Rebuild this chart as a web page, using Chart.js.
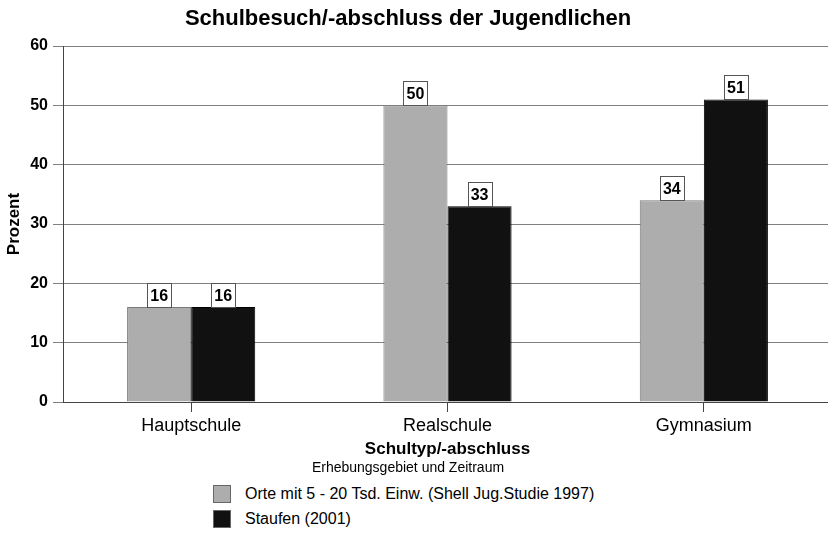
<!DOCTYPE html>
<html>
<head>
<meta charset="utf-8">
<script src="https://cdn.jsdelivr.net/npm/chart.js@4.4.1/dist/chart.umd.min.js"></script>
<style>
	body { margin: 0; background: #fff; overflow: hidden; }
	#wrap { position: relative; width: 828px; height: 559px; overflow: hidden; font-family: "Liberation Sans", Arial, sans-serif; color: #000; }
	#chart { position: absolute; left: 0; top: 0; }
	#title { position: absolute; left: 0; width: 816px; top: 5px; line-height: 26px; text-align: center; font-weight: bold; font-size: 22px; }
	#legend-title { position: absolute; left: 0; width: 816px; top: 458px; line-height: 18px; text-align: center; font-size: 14px; }
	.leg-item { position: absolute; left: 213px; height: 18px; line-height: 18px; font-size: 16px; white-space: nowrap; }
	.leg-item span { display: inline-block; width: 18px; height: 18px; vertical-align: top; margin-right: 14px; box-sizing: border-box; border: 1px solid #666; }
</style>
</head>
<body>
<div id="wrap">
	<canvas id="chart" width="836" height="462"></canvas>
	<div id="title">Schulbesuch/-abschluss der Jugendlichen</div>
	<div id="legend-title">Erhebungsgebiet und Zeitraum</div>
	<div id="legend"></div>
</div>
<script>
const categories = ['Hauptschule', 'Realschule', 'Gymnasium'];
const seriesNames = ['Orte mit 5 - 20 Tsd. Einw. (Shell Jug.Studie 1997)', 'Staufen (2001)'];
const shell1997 = [16, 50, 34];
const staufen2001 = [16, 33, 51];
const yTicks = [0, 10, 20, 30, 40, 50, 60];

const FONT = '"Liberation Sans", Arial, sans-serif';

// white value boxes sitting on top of each bar
const valueBoxes = {
	id: 'valueBoxes',
	afterDatasetsDraw(chart) {
		const ctx = chart.ctx;
		ctx.save();
		ctx.font = 'bold 16px ' + FONT;
		ctx.textAlign = 'center';
		ctx.textBaseline = 'middle';
		chart.data.datasets.forEach((ds, i) => {
			chart.getDatasetMeta(i).data.forEach((bar, j) => {
				const w = 24, h = 24;
				const x = Math.round(bar.x - w / 2) + 0.5;
				const y = Math.round(bar.y - h) + 0.5;
				ctx.fillStyle = '#fff';
				ctx.fillRect(x, y, w, h);
				ctx.strokeStyle = '#555';
				ctx.lineWidth = 1;
				ctx.strokeRect(x, y, w, h);
				ctx.fillStyle = '#000';
				ctx.fillText(String(ds.data[j]), bar.x, y + h / 2 + 1);
			});
		});
		ctx.restore();
	}
};

const chart = new Chart(document.getElementById('chart').getContext('2d'), {
	type: 'bar',
	data: {
		labels: categories,
		datasets: [{
			label: seriesNames[0],
			data: shell1997,
			backgroundColor: '#adadad',
			borderColor: '#7a7a7a',
			borderWidth: 1,
			categoryPercentage: 0.5,
			barPercentage: 1.0
		}, {
			label: seriesNames[1],
			data: staufen2001,
			backgroundColor: '#111111',
			borderColor: '#000000',
			borderWidth: 1,
			categoryPercentage: 0.5,
			barPercentage: 1.0
		}]
	},
	options: {
		responsive: false,
		animation: false,
		layout: { padding: { top: 46, right: 4, left: 0, bottom: 0 } },
		plugins: {
			legend: { display: false },
			title: { display: false },
			tooltip: { enabled: false }
		},
		scales: {
			x: {
				grid: { display: true, drawOnChartArea: false, offset: false, tickLength: 10, color: '#444' },
				border: { display: true, color: '#444' },
				ticks: { color: '#000', font: { family: FONT, size: 18 }, padding: 3 },
				title: { display: true, text: 'Schultyp/-abschluss', color: '#000', font: { family: FONT, size: 17, weight: 'bold' }, padding: { top: 0, bottom: 2 } }
			},
			y: {
				min: 0,
				max: 60,
				afterBuildTicks: (axis) => { axis.ticks = yTicks.map(v => ({ value: v })); },
				afterFit: (axis) => { axis.width = 63; },
				grid: { color: '#808080', tickLength: 10 },
				border: { display: true, color: '#444' },
				ticks: { color: '#000', font: { family: FONT, size: 16, weight: 'bold' }, padding: 5 },
				title: { display: true, text: 'Prozent', color: '#000', font: { family: FONT, size: 17, weight: 'bold' }, padding: { top: 4, bottom: 0 } }
			}
		}
	},
	plugins: [valueBoxes]
});

// legend built from the chart's datasets
const $legend = document.getElementById('legend');
chart.data.datasets.forEach((ds, i) => {
	const row = document.createElement('div');
	row.className = 'leg-item';
	row.style.top = (485 + i * 25) + 'px';
	const box = document.createElement('span');
	box.style.background = ds.backgroundColor;
	row.appendChild(box);
	row.appendChild(document.createTextNode(ds.label));
	$legend.appendChild(row);
});
</script>
</body>
</html>
